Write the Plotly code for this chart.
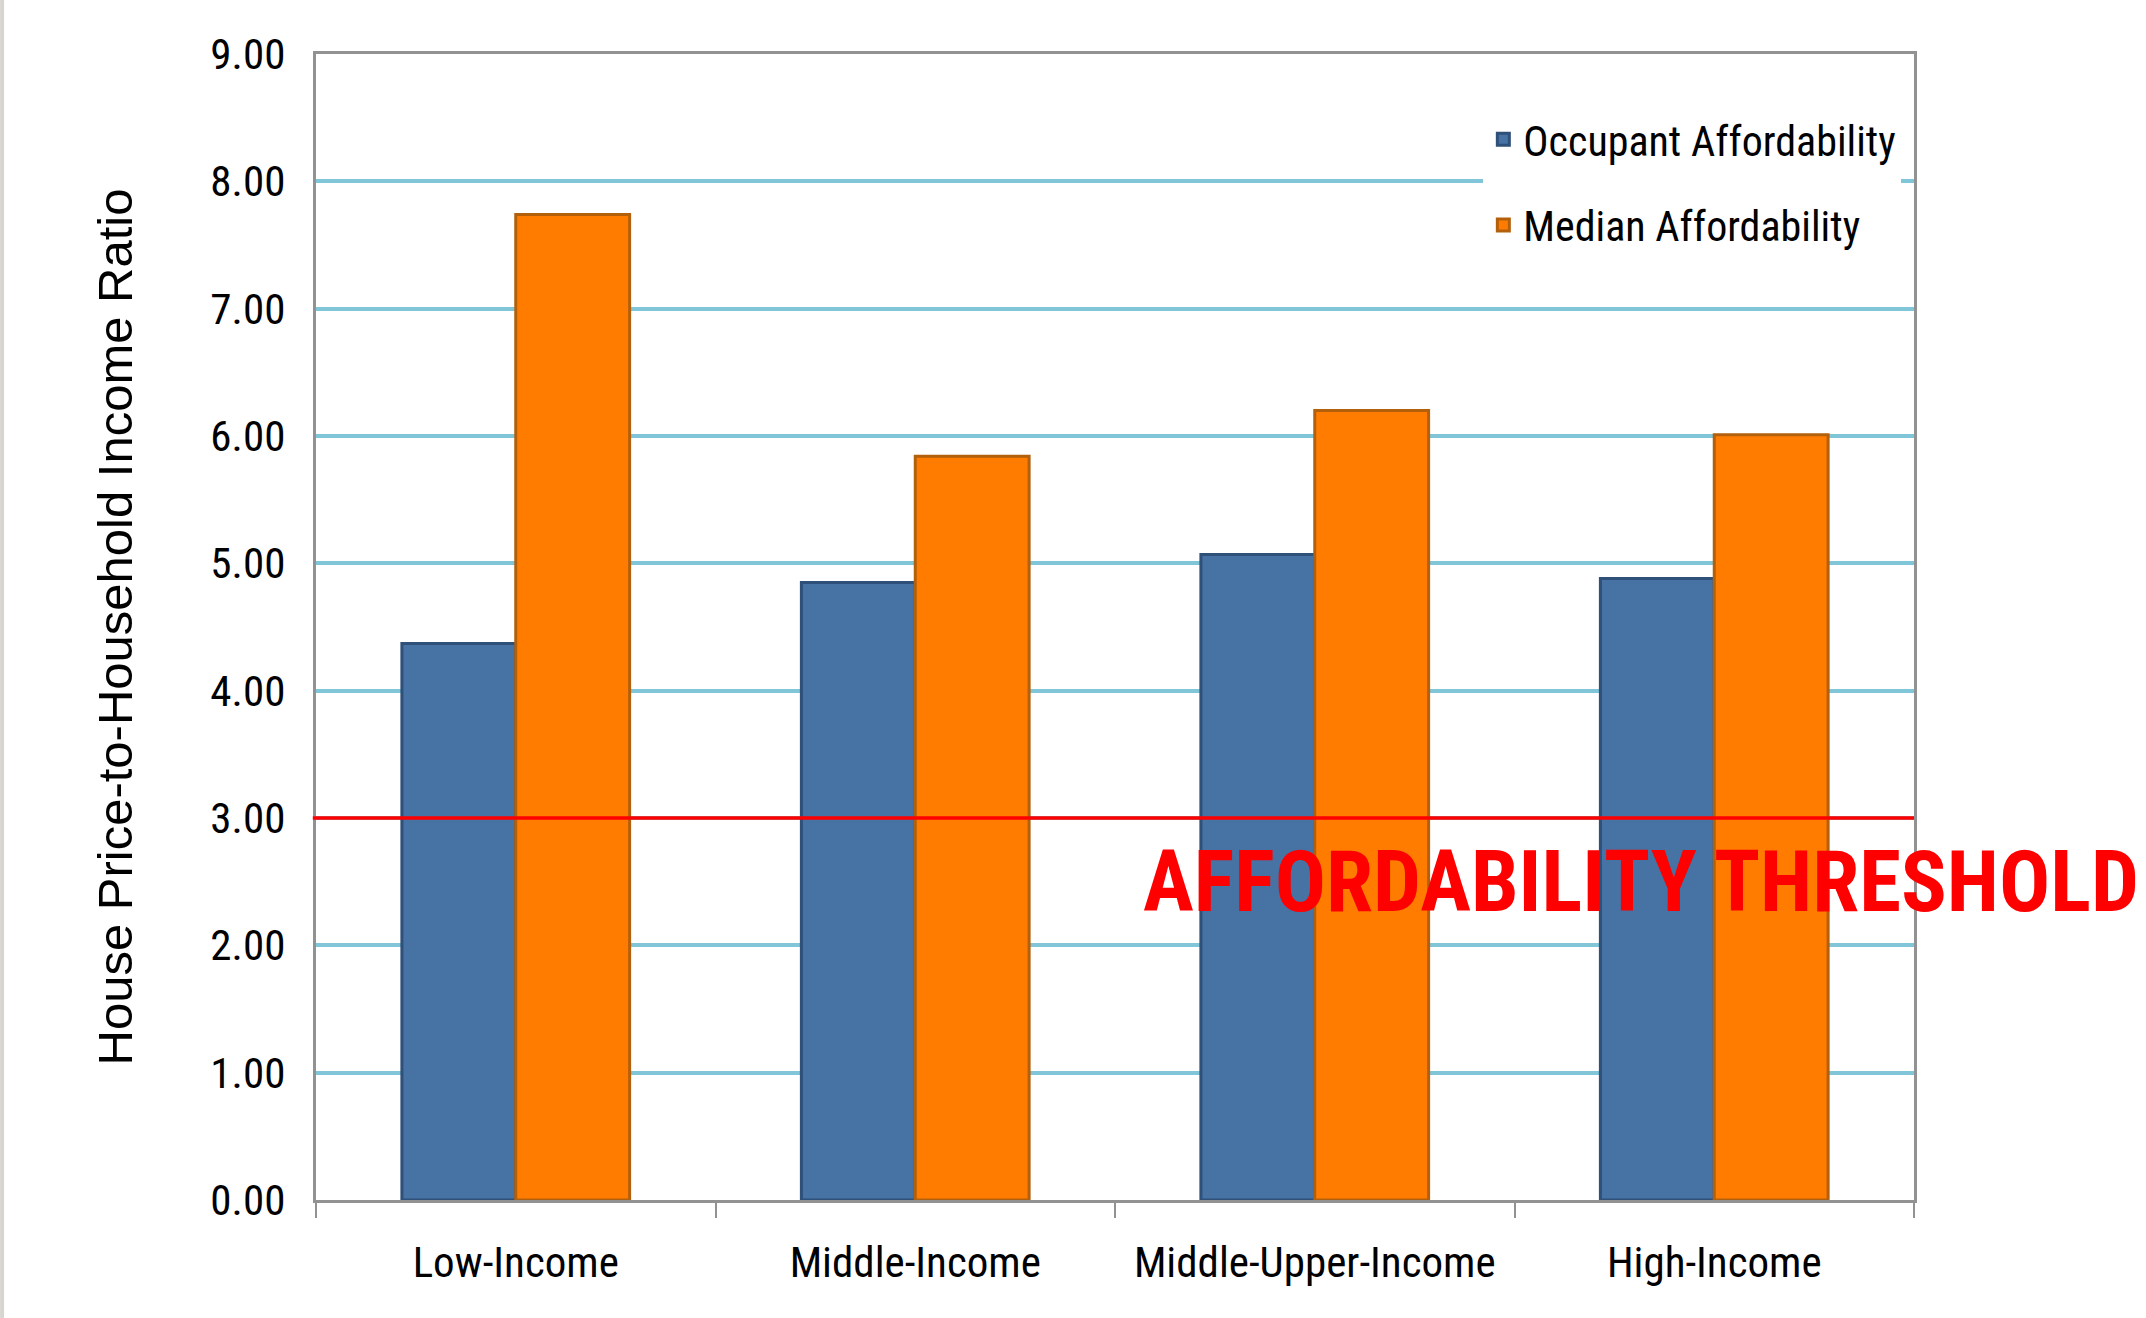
import plotly.graph_objects as go

# Income groups and their house price-to-income ratios
categories = ["Low-Income", "Middle-Income", "Middle-Upper-Income", "High-Income"]
occupant_affordability = [4.37, 4.85, 5.07, 4.88]
median_affordability = [7.74, 5.84, 6.20, 6.01]
threshold_value = 3.00
threshold_label = "AFFORDABILITY THRESHOLD"
y_ticks = [0, 1, 2, 3, 4, 5, 6, 7, 8, 9]

NARROW = "Roboto Condensed, Liberation Sans Narrow, Arial Narrow, sans-serif"
REGULAR = "Liberation Sans, Arial, sans-serif"
AXIS_GREY = "#929292"
GRID_BLUE = "#80c5d8"

fig = go.Figure()
fig.add_trace(go.Bar(
    name="Occupant Affordability", x=categories, y=occupant_affordability,
    marker=dict(color="#4672a4", line=dict(color="#2f5079", width=3)),
    legendgroup="occ",
))
fig.add_trace(go.Bar(
    name="Median Affordability", x=categories, y=median_affordability,
    marker=dict(color="#ff7c00", line=dict(color="#b3600c", width=3)),
    legendgroup="med",
))

# Threshold line across the plot
fig.add_shape(type="line", xref="paper", yref="y", x0=-0.002, x1=1.0,
              y0=threshold_value, y1=threshold_value,
              line=dict(color="#ff0000", width=3.5), layer="above")

fig.add_annotation(text=threshold_label, xref="paper", yref="y",
                   x=0.516, y=threshold_value - 0.50, xanchor="left", yanchor="middle",
                   showarrow=False,
                   font=dict(family=NARROW, size=85, color="#ff0000", weight="bold"))

# Thin grey page edge on the left
fig.add_shape(type="rect", xref="paper", yref="paper",
              x0=-0.1977, x1=-0.1952, y0=-0.11, y1=1.06,
              fillcolor="#d8d5d0", line=dict(width=0), layer="below")

fig.update_layout(
    width=2146, height=1318,
    margin=dict(l=316, r=232, t=54, b=118, autoexpand=False),
    paper_bgcolor="white", plot_bgcolor="white",
    barmode="group", bargap=0.43, bargroupgap=0.0,
    font=dict(family=NARROW, size=43, color="black"),
    legend=dict(
        x=0.7305, xanchor="left", y=0.955, yanchor="top",
        bgcolor="white", borderwidth=0,
        font=dict(family=NARROW, size=42, color="black"),
        traceorder="grouped", tracegroupgap=28,
    ),
    showlegend=True,
)

fig.update_xaxes(
    showline=True, linecolor=AXIS_GREY, linewidth=3, mirror=True,
    ticks="outside", tickson="boundaries", ticklen=15, tickwidth=2, tickcolor=AXIS_GREY,
    tickangle=0,
    tickfont=dict(family=NARROW, size=43, color="black"),
    ticklabelstandoff=22, showgrid=False,
)
fig.update_yaxes(
    range=[0, 9], tickvals=y_ticks, tickformat=".2f",
    showline=True, linecolor=AXIS_GREY, linewidth=3, mirror=True,
    showgrid=True, gridcolor=GRID_BLUE, gridwidth=3.5,
    zeroline=False, ticks="",
    tickfont=dict(family=NARROW, size=43, color="black"),
    ticklabelstandoff=19,
    title=dict(text="House Price-to-Household Income Ratio",
               font=dict(family=REGULAR, size=49, color="black"), standoff=63),
)

fig.write_html("out.html")
